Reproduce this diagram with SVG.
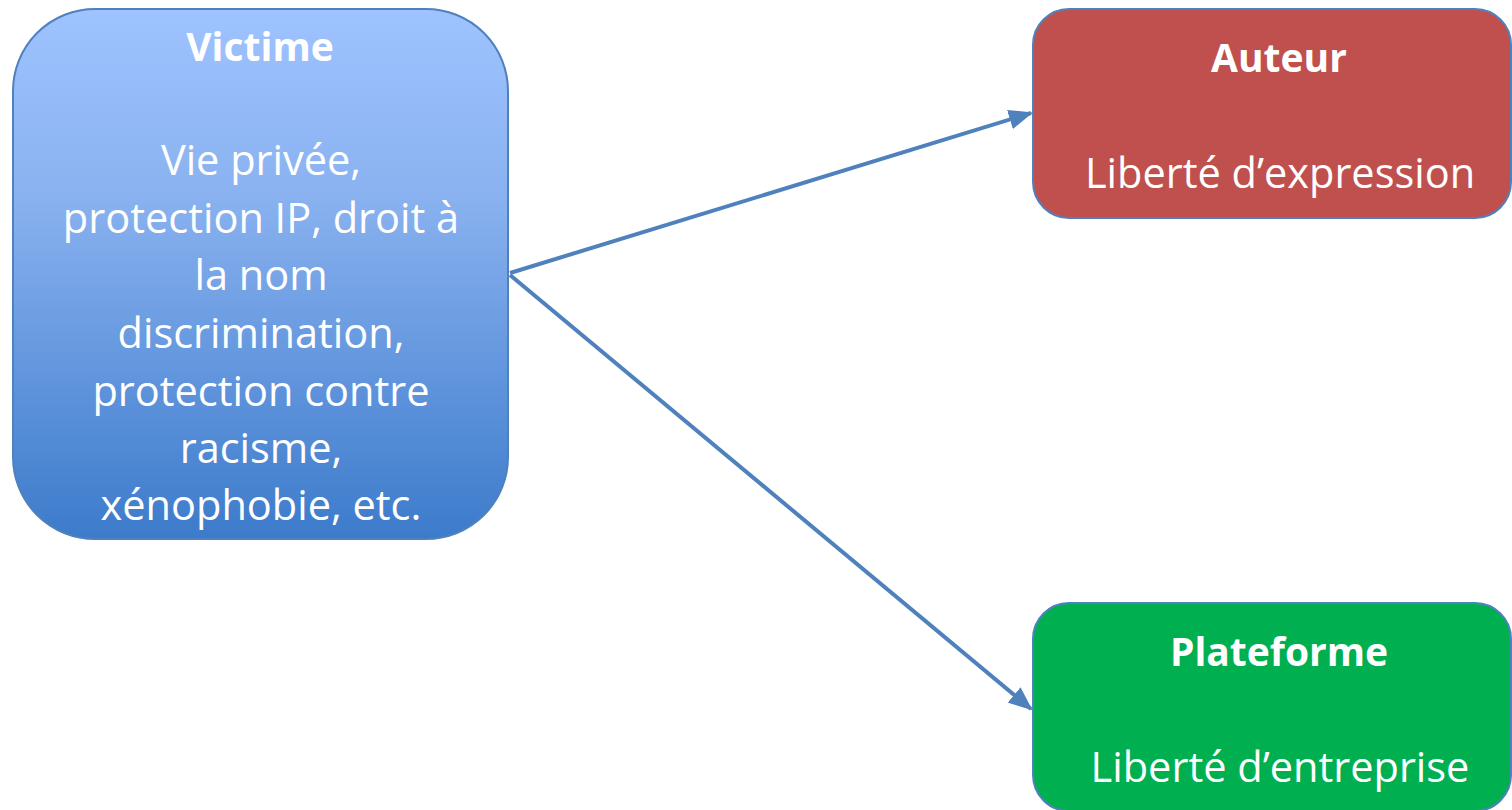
<svg xmlns="http://www.w3.org/2000/svg" width="1512" height="810" viewBox="0 0 1512 810">
<defs>
<linearGradient id="gBlue" x1="0" y1="0" x2="0" y2="1">
<stop offset="0" stop-color="#9EC3FF"/>
<stop offset="0.35" stop-color="#8AB2F0"/>
<stop offset="1" stop-color="#3C7BCB"/>
</linearGradient>
<marker id="arr" markerUnits="userSpaceOnUse" markerWidth="24" markerHeight="20" refX="22" refY="10" orient="auto">
<path d="M0,0 L24,10 L0,20 Z" fill="#4F81BD"/>
</marker>
<style>
.box{stroke:#4F81BD;stroke-width:2}
.t{font-family:"Open Sans","Liberation Sans",sans-serif;fill:#FFFFFF;text-anchor:middle}
.b{font-weight:bold;font-size:39px}
.r{font-size:41.5px}
.conn{stroke:#4F81BD;stroke-width:4;fill:none}
</style>
</defs>
<rect width="1512" height="810" fill="#FFFFFF"/>
<g id="connectors">
<line class="conn" x1="510" y1="273" x2="1031" y2="113" marker-end="url(#arr)"/>
<line class="conn" x1="510" y1="275" x2="1031" y2="709" marker-end="url(#arr)"/>
</g>
<g id="victime">
<rect class="box" x="13" y="9" width="495" height="530" rx="82" ry="82" fill="url(#gBlue)"/>
<text class="t b" x="260" y="61">Victime</text>
<text class="t r" x="261" y="175">Vie privée,</text>
<text class="t r" x="261" y="233">protection IP, droit à</text>
<text class="t r" x="261" y="290">la nom</text>
<text class="t r" x="261" y="348">discrimination,</text>
<text class="t r" x="261" y="406">protection contre</text>
<text class="t r" x="261" y="463">racisme,</text>
<text class="t r" x="261" y="520">xénophobie, etc.</text>
</g>
<g id="auteur">
<rect class="box" x="1033" y="9" width="478" height="209" rx="36" ry="36" fill="#C0504D"/>
<text class="t b" x="1279" y="72">Auteur</text>
<text class="t r" x="1280" y="188">Liberté d’expression</text>
</g>
<g id="plateforme">
<rect class="box" x="1033" y="603" width="478" height="208" rx="36" ry="36" fill="#00B050"/>
<text class="t b" x="1279" y="666">Plateforme</text>
<text class="t r" x="1280" y="782">Liberté d’entreprise</text>
</g>
</svg>
